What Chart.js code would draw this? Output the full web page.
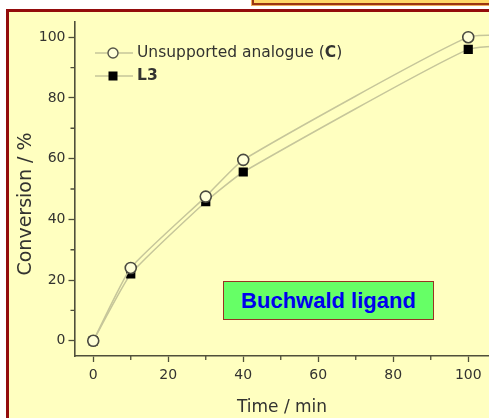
<!DOCTYPE html>
<html>
<head>
<meta charset="utf-8">
<script src="https://cdn.jsdelivr.net/npm/chart.js@4/dist/chart.umd.min.js"></script>
<style>
    html, body { margin: 0; padding: 0; background: #ffffff; }
    body { width: 489px; height: 418px; overflow: hidden; position: relative; }
    #topBox {
        position: absolute; left: 252px; top: -12px; width: 300px; height: 13px;
        background: #ffd868; border: 2px solid #9b3512; outline: 1px solid #f0b060;
    }
    #frame {
        position: absolute; left: 6px; top: 9px; width: 600px; height: 500px;
        background: #ffffc0; border: 3px solid #930c0c;
    }
    #wrap { position: absolute; left: 0; top: 0; width: 620px; height: 418px; }
    #badge {
        position: absolute; left: 223px; top: 281px; width: 209px; height: 37px;
        background: #66ff66; border: 1.5px solid #993322;
        color: #0000ee; font: bold 22px "Liberation Sans", Arial, sans-serif;
        display: flex; align-items: center; justify-content: center;
    }
</style>
</head>
<body>
<div id="topBox"></div>
<div id="frame"></div>
<div id="wrap"><canvas id="chart" width="620" height="418"></canvas></div>
<div id="badge">Buchwald ligand</div>
<script>
// conversion (%) vs time (min)
const times = [0, 10, 30, 40, 100, 120];
const unsupportedC = [0, 24, 47.5, 59.6, 100, 100.5];
const ligandL3 = [0, 22, 45.8, 55.6, 96, 97.5];

const xTicksMajor = [0, 20, 40, 60, 80, 100, 120];
const xTicksMinor = [10, 30, 50, 70, 90, 110];
const yTicksMajor = [0, 20, 40, 60, 80, 100];
const yTicksMinor = [10, 30, 50, 70, 90];

const seriesNames = ['Unsupported analogue (', 'L3'];
const xTitle = 'Time / min';
const yTitle = 'Conversion / %';

const FONT = '"DejaVu Sans", sans-serif';
const AXIS = '#4f4f3a';
const TEXT = '#333330';
const LINE = '#c6c69a';

const pts = (xs, ys) => xs.map((x, i) => ({ x: x, y: ys[i] }));

// short minor ticks, axis titles and the legend
const decorations = {
    id: 'decorations',
    afterDraw(chart) {
        const ctx = chart.ctx;
        const xs = chart.scales.x, ys = chart.scales.y;
        const area = chart.chartArea;
        ctx.save();
        ctx.strokeStyle = AXIS;
        ctx.lineWidth = 1.3;
        ctx.beginPath();
        xTicksMinor.forEach(v => {
            const px = xs.getPixelForValue(v);
            ctx.moveTo(px, area.bottom);
            ctx.lineTo(px, area.bottom + 4);
        });
        yTicksMinor.forEach(v => {
            const py = ys.getPixelForValue(v);
            ctx.moveTo(area.left, py);
            ctx.lineTo(area.left - 4, py);
        });
        ctx.stroke();

        ctx.fillStyle = TEXT;
        ctx.textAlign = 'center';
        ctx.textBaseline = 'middle';
        ctx.font = '17px ' + FONT;
        ctx.fillText(xTitle, 282, 408);
        ctx.translate(26, 204);
        ctx.rotate(-Math.PI / 2);
        ctx.font = '19px ' + FONT;
        ctx.fillText(yTitle, 0, 0);
        ctx.restore();

        // legend
        ctx.save();
        const rows = [53, 76];
        ctx.strokeStyle = LINE;
        ctx.lineWidth = 1.5;
        rows.forEach(y => {
            ctx.beginPath();
            ctx.moveTo(95, y);
            ctx.lineTo(133, y);
            ctx.stroke();
        });
        ctx.beginPath();
        ctx.arc(113, rows[0], 5, 0, Math.PI * 2);
        ctx.fillStyle = '#ffffd8';
        ctx.fill();
        ctx.strokeStyle = '#555548';
        ctx.lineWidth = 1.4;
        ctx.stroke();
        ctx.fillStyle = '#000000';
        ctx.fillRect(108.5, rows[1] - 4.5, 9, 9);

        ctx.fillStyle = TEXT;
        ctx.textAlign = 'left';
        ctx.textBaseline = 'middle';
        ctx.font = '15.5px ' + FONT;
        let x = 137;
        ctx.fillText(seriesNames[0], x, rows[0]);
        x += ctx.measureText(seriesNames[0]).width;
        ctx.font = 'bold 15.5px ' + FONT;
        ctx.fillText('C', x, rows[0]);
        x += ctx.measureText('C').width;
        ctx.font = '15.5px ' + FONT;
        ctx.fillText(')', x, rows[0]);
        ctx.font = 'bold 15.5px ' + FONT;
        ctx.fillText(seriesNames[1], 137, rows[1]);
        ctx.restore();
    }
};

new Chart(document.getElementById('chart'), {
    type: 'line',
    data: {
        datasets: [{
            label: 'Unsupported analogue (C)',
            data: pts(times, unsupportedC),
            borderColor: LINE,
            borderWidth: 1.5,
            tension: 0.15,
            pointStyle: 'circle',
            pointRadius: 5.5,
            pointBackgroundColor: '#ffffd8',
            pointBorderColor: '#4a4a40',
            pointBorderWidth: 1.6
        }, {
            label: 'L3',
            data: pts(times, ligandL3),
            borderColor: LINE,
            borderWidth: 1.5,
            tension: 0.15,
            pointStyle: 'rect',
            pointRadius: 6.5,
            pointBackgroundColor: '#000000',
            pointBorderColor: '#000000',
            pointBorderWidth: 0
        }]
    },
    options: {
        responsive: false,
        animation: false,
        devicePixelRatio: 1,
        events: [],
        layout: { padding: { top: 22, right: 58, bottom: 0, left: 0 } },
        plugins: { legend: { display: false }, tooltip: { enabled: false } },
        scales: {
            x: {
                type: 'linear',
                min: -5,
                max: 125,
                afterFit: s => { s.height = 62; },
                afterBuildTicks: s => { s.ticks = xTicksMajor.map(v => ({ value: v })); },
                border: { color: AXIS, width: 1.6 },
                grid: { drawOnChartArea: false, tickLength: 6, tickColor: AXIS, tickWidth: 1.3 },
                ticks: { color: TEXT, font: { family: FONT, size: 14 }, padding: 5, maxRotation: 0 }
            },
            y: {
                min: -5,
                max: 105,
                afterFit: s => { s.width = 74.5; },
                afterBuildTicks: s => { s.ticks = yTicksMajor.map(v => ({ value: v })); },
                border: { color: AXIS, width: 1.6 },
                grid: { drawOnChartArea: false, tickLength: 6, tickColor: AXIS, tickWidth: 1.3 },
                ticks: { color: TEXT, font: { family: FONT, size: 14 }, padding: 3 }
            }
        }
    },
    plugins: [decorations]
});
</script>
</body>
</html>
